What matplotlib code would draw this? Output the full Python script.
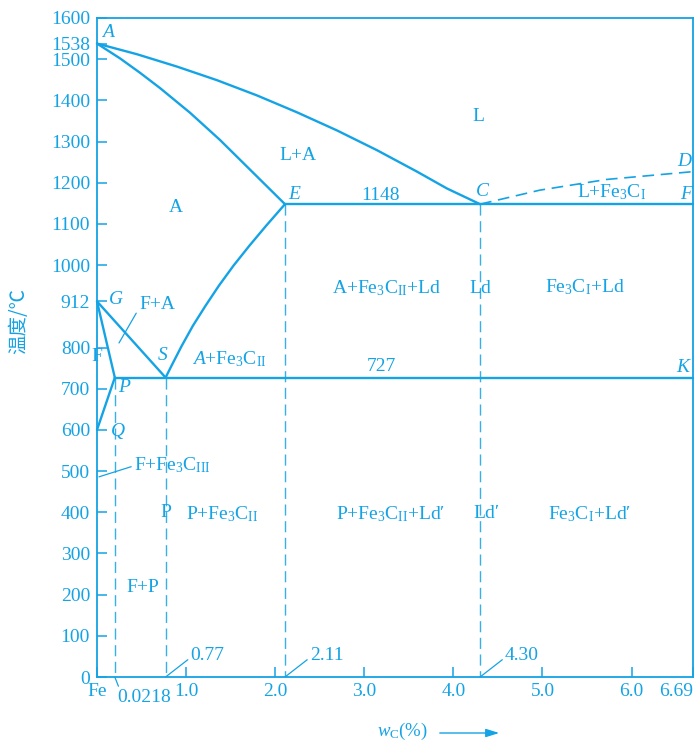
import numpy as np
import matplotlib
matplotlib.use('Agg')
import matplotlib.pyplot as plt
from matplotlib.ticker import NullLocator

plt.rcParams['font.family'] = ['Liberation Serif', 'Noto Sans CJK SC', 'DejaVu Sans']
plt.rcParams['mathtext.fontset'] = 'custom'
plt.rcParams['mathtext.rm'] = 'Liberation Serif'
plt.rcParams['mathtext.it'] = 'Liberation Serif:italic'

COL = '#14a3e5'

# ---------------- data ----------------
# liquidus A-C
liq_w = [0.0, 0.349, 0.898, 1.347, 1.796, 2.245, 2.694, 3.143, 3.592, 3.929, 4.30]
liq_t = [1538, 1512, 1482, 1449, 1412, 1371, 1327, 1279, 1227, 1186, 1148]
# solidus A-E
sol_w = [0.0, 0.098, 0.393, 0.687, 1.044, 1.380, 1.717, 2.11]
sol_t = [1538, 1502, 1467, 1430, 1370, 1304, 1232, 1148]
# E-S (Acm)
es_w = [2.11, 1.900, 1.710, 1.533, 1.368, 1.217, 1.077, 0.951, 0.837, 0.77]
es_t = [1148, 1096, 1047, 999, 950, 901, 853, 804, 756, 727]
gs_w = [0.0, 0.77]
gs_t = [912, 727]
gp_w = [0.0, 0.0218]
gp_t = [912, 727]
pq_w = [0.0218, 0.0]
pq_t = [727, 600]
cd_w = [4.30, 4.97, 5.72, 6.69]
cd_t = [1148, 1182, 1208, 1227]
ecf_w = [2.11, 6.69]
ecf_t = [1148, 1148]
psk_w = [0.0218, 6.69]
psk_t = [727, 727]
drop_w = [0.0218, 0.77, 2.11, 4.30]
drop_t = [727, 727, 1148, 1148]
drop_lbl = ['0.0218', '0.77', '2.11', '4.30']

pt_names = ['A', 'E', 'C', 'D', 'F', 'G', 'S', 'P', 'Q', 'K']
pt_w = [0.0, 2.11, 4.30, 6.69, 6.69, 0.0, 0.77, 0.0218, 0.0, 6.69]
pt_t = [1538, 1148, 1148, 1227, 1148, 912, 727, 727, 600, 727]

yticks = [0, 100, 200, 300, 400, 500, 600, 700, 800, 912, 1000, 1100,
          1200, 1300, 1400, 1500, 1538, 1600]
xticks = [0, 1, 2, 3, 4, 5, 6, 6.69]
xtick_lbl = ['Fe', '1.0', '2.0', '3.0', '4.0', '5.0', '6.0', '6.69']

# ---------------- figure ----------------
W, H = 697, 742
fig = plt.figure(figsize=(W / 100, H / 100), dpi=100)
L, R, T, B = 97, 693, 18, 677
ax = fig.add_axes([L / W, (H - B) / H, (R - L) / W, (B - T) / H])

# exaggerated low-carbon region (as in the schematic)
B1, B2, D1 = 0.0218, 0.77, 0.2


def fwd(x):
    x = np.asarray(x, float)
    return np.where(x < B1, x * D1 / B1,
                    np.where(x < B2, D1 + (x - B1) * (B2 - D1) / (B2 - B1), x))


def inv(d):
    d = np.asarray(d, float)
    return np.where(d < D1, d * B1 / D1,
                    np.where(d < B2, B1 + (d - D1) * (B2 - B1) / (B2 - D1), d))


ax.set_xscale('function', functions=(fwd, inv))
ax.set_xlim(0, 6.69)
ax.set_ylim(0, 1600)

for s in ax.spines.values():
    s.set_color(COL)
    s.set_linewidth(1.3)

lw = 1.7
solid = dict(color=COL, lw=lw, solid_joinstyle='round', solid_capstyle='round',
             clip_on=False)
for xs, ys in [(liq_w, liq_t), (sol_w, sol_t), (es_w, es_t), (gs_w, gs_t),
               (gp_w, gp_t), (pq_w, pq_t), (ecf_w, ecf_t), (psk_w, psk_t)]:
    ax.plot(xs, ys, **solid)
ax.plot(cd_w, cd_t, color=COL, lw=1.2, dashes=(7, 4))
for xw, yt in zip(drop_w, drop_t):
    ax.plot([xw, xw], [yt, 0], color=COL, lw=1.0, alpha=0.85, dashes=(8, 4))

# ticks
ax.set_yticks(yticks)
ax.set_yticklabels([str(v) for v in yticks])
ax.set_xticks(xticks)
ax.set_xticklabels(xtick_lbl)
ax.xaxis.set_minor_locator(NullLocator())
ax.yaxis.set_minor_locator(NullLocator())
ax.tick_params(axis='both', direction='in', colors=COL, labelsize=14,
               length=7, width=1.1)
ax.tick_params(axis='y', pad=5)
ax.tick_params(axis='x', pad=4)
labels = ax.get_xticklabels()
labels[-1].set_horizontalalignment('right')
labels[0].set_horizontalalignment('center')

fs = 14
# point labels (italic)
pt_off = {'A': (11, 11), 'E': (9, 10), 'C': (2, 13), 'D': (-9, 10),
          'F': (-7, 10), 'G': (19, 2), 'S': (-3, 22), 'P': (9, -10),
          'Q': (21, -2), 'K': (-10, 10)}
for n, xw, yt in zip(pt_names, pt_w, pt_t):
    dx, dy = pt_off[n]
    ax.annotate(n, xy=(xw, yt), xytext=(dx, dy), textcoords='offset pixels',
                ha='center', va='center', color=COL, fontsize=fs,
                style='italic', annotation_clip=False)

# region labels
region = [
    ('L', 4.28, 1362),
    ('L+A', 2.26, 1265),
    ('A', 0.88, 1141),
    ('1148', 3.18, 1168),
    (r'L+Fe$_3$C$_{\mathrm{I}}$', 5.78, 1177),
    (r'A+Fe$_3$C$_{\mathrm{II}}$+Ld', 3.255, 944),
    ('Ld', 4.30, 944),
    (r'Fe$_3$C$_{\mathrm{I}}$+Ld', 5.477, 947),
    (r'$\mathit{A}$+Fe$_3$C$_{\mathrm{II}}$', 1.48, 772),
    ('727', 3.19, 753),
    ('F', 0.0, 777),
    ('P', 0.77, 400),
    (r'P+Fe$_3$C$_{\mathrm{II}}$', 1.40, 396),
    (r'P+Fe$_3$C$_{\mathrm{II}}$+Ld′', 3.30, 396),
    ('Ld′', 4.37, 396),
    (r'Fe$_3$C$_{\mathrm{I}}$+Ld′', 5.53, 396),
    ('F+P', 0.437, 218),
]
for txt, xw, yt in region:
    ax.text(xw, yt, txt, ha='center', va='center', color=COL, fontsize=fs,
            clip_on=False)

# leader-line labels
lead = dict(arrowstyle='-', color=COL, lw=0.9, shrinkA=0, shrinkB=0)
ax.annotate('F+A', xy=(0.0835, 811), xytext=(20, 38), textcoords='offset pixels',
            ha='left', va='center', color=COL, fontsize=fs,
            arrowprops=dict(lead, relpos=(0, 0.3)))
ax.annotate(r'F+Fe$_3$C$_{\mathrm{III}}$', xy=(0.0024, 486), xytext=(35, 12),
            textcoords='offset pixels', ha='left', va='center', color=COL,
            fontsize=fs, arrowprops=dict(lead, relpos=(0, 0.45)))
for lbl, xw in zip(drop_lbl, drop_w):
    if lbl == '0.0218':
        ax.annotate(lbl, xy=(xw, 0), xytext=(2, -12), textcoords='offset pixels',
                    ha='left', va='top', color=COL, fontsize=fs,
                    annotation_clip=False,
                    arrowprops=dict(lead, relpos=(0.05, 1.0)))
    else:
        ax.annotate(lbl, xy=(xw, 0), xytext=(25, 22), textcoords='offset pixels',
                    ha='left', va='center', color=COL, fontsize=fs,
                    annotation_clip=False,
                    arrowprops=dict(lead, relpos=(0, 0.35)))

# axis titles
fig.text(19 / W, 1 - 321 / H, '温度/℃', rotation=90, ha='center', va='center',
         color=COL, fontsize=14, family=['Noto Sans CJK SC', 'DejaVu Sans'])
fig.text(377 / W, 1 - 731 / H, r'$w_{\mathrm{C}}$(%)', ha='left', va='center',
         color=COL, fontsize=13.5)
fig.add_artist(matplotlib.patches.FancyArrowPatch(
    (437 / W, 1 - 733 / H), (502 / W, 1 - 733 / H), transform=fig.transFigure,
    arrowstyle='-|>,head_length=8,head_width=2.5', color=COL, lw=1.0,
    mutation_scale=1))

fig.savefig('out.png', dpi=100)
